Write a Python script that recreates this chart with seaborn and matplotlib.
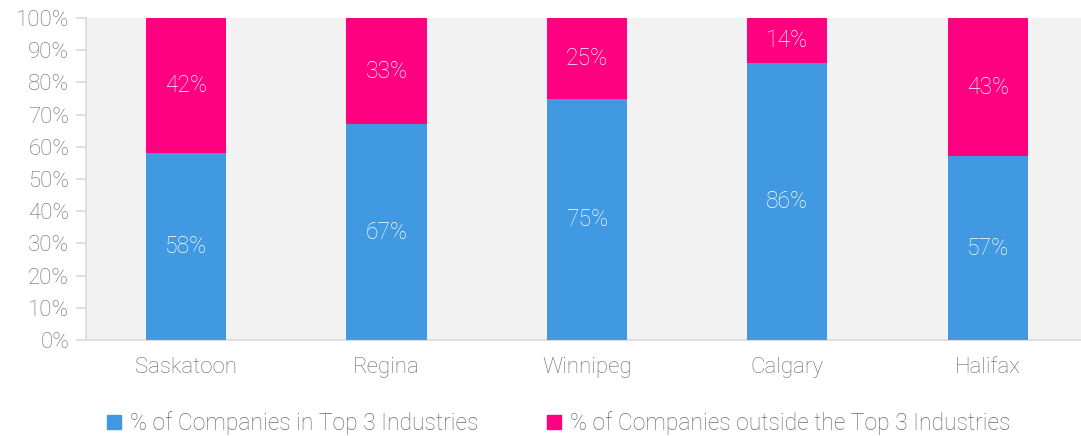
import pandas as pd
import matplotlib.pyplot as plt
import seaborn as sns
from matplotlib.patches import Patch

# data
cities = ["Saskatoon", "Regina", "Winnipeg", "Calgary", "Halifax"]
top3 = [58, 67, 75, 86, 57]
outside = [42, 33, 25, 14, 43]
series_names = ["% of Companies in Top 3 Industries",
                "% of Companies outside the Top 3 Industries"]

blue = "#4199E1"
pink = "#FF0080"
grey_txt = "#6A6A6A"
fw = "light"

df = pd.DataFrame({"city": cities, "top3": top3, "outside": outside})
df["total"] = df["top3"] + df["outside"]

sns.set_style("white")
plt.rcParams['font.family'] = ['Roboto', 'DejaVu Sans']

fig = plt.figure(figsize=(10.81, 4.36), dpi=100)
ax = fig.add_axes([0.0794, 0.2202, 1.0065 - 0.0794, 0.7385])
ax.set_facecolor("#F2F2F2")

sns.barplot(data=df, x="city", y="total", color=pink, width=0.4,
            saturation=1, linewidth=0, ax=ax, zorder=2)
sns.barplot(data=df, x="city", y="top3", color=blue, width=0.4,
            saturation=1, linewidth=0, ax=ax, zorder=3)

for i, row in df.iterrows():
    ax.text(i, row["top3"] / 2, f"{row['top3']}%", ha="center", va="center",
            color="white", fontsize=16.5, fontweight=fw, zorder=4)
    ax.text(i, row["top3"] + row["outside"] / 2, f"{row['outside']}%",
            ha="center", va="center", color="white", fontsize=16.5,
            fontweight=fw, zorder=4)

ax.set_xlim(-0.5, 4.5)
ax.set_ylim(0, 100)
ax.set_yticks(range(0, 101, 10))
ax.set_yticklabels([f"{v}%" for v in range(0, 101, 10)])
ax.set_xlabel("")
ax.set_ylabel("")

for s in ["top", "right"]:
    ax.spines[s].set_visible(False)
for s in ["left", "bottom"]:
    ax.spines[s].set_color("#D9D9D9")
    ax.spines[s].set_linewidth(1.2)

# category tick marks sit between the bars
ax.set_xticks([x - 0.5 for x in range(len(cities) + 1)], minor=False)
ax.set_xticklabels([])
ax.set_xticks(range(len(cities)), minor=True)
ax.set_xticklabels(cities, minor=True)
ax.tick_params(axis="x", which="major", length=7, color="#D9D9D9", width=1.2,
               direction="out")
ax.tick_params(axis="x", which="minor", length=0, pad=12, labelsize=16,
               labelcolor=grey_txt)
ax.tick_params(axis="y", length=7, color="#D9D9D9", width=1.2, pad=5,
               labelsize=16, labelcolor=grey_txt, left=True)
for lab in ax.get_xticklabels(minor=True) + ax.get_yticklabels():
    lab.set_fontweight(fw)

handles = [Patch(color=blue), Patch(color=pink)]
fig.legend(handles, series_names, loc="center", bbox_to_anchor=(0.517, 0.03),
           ncol=2, frameon=False, handlelength=0.6, handleheight=0.6,
           handletextpad=0.4, columnspacing=3.0,
           prop={"size": 16.5, "weight": fw}, labelcolor=grey_txt)

fig.savefig("out.png", dpi=100)
